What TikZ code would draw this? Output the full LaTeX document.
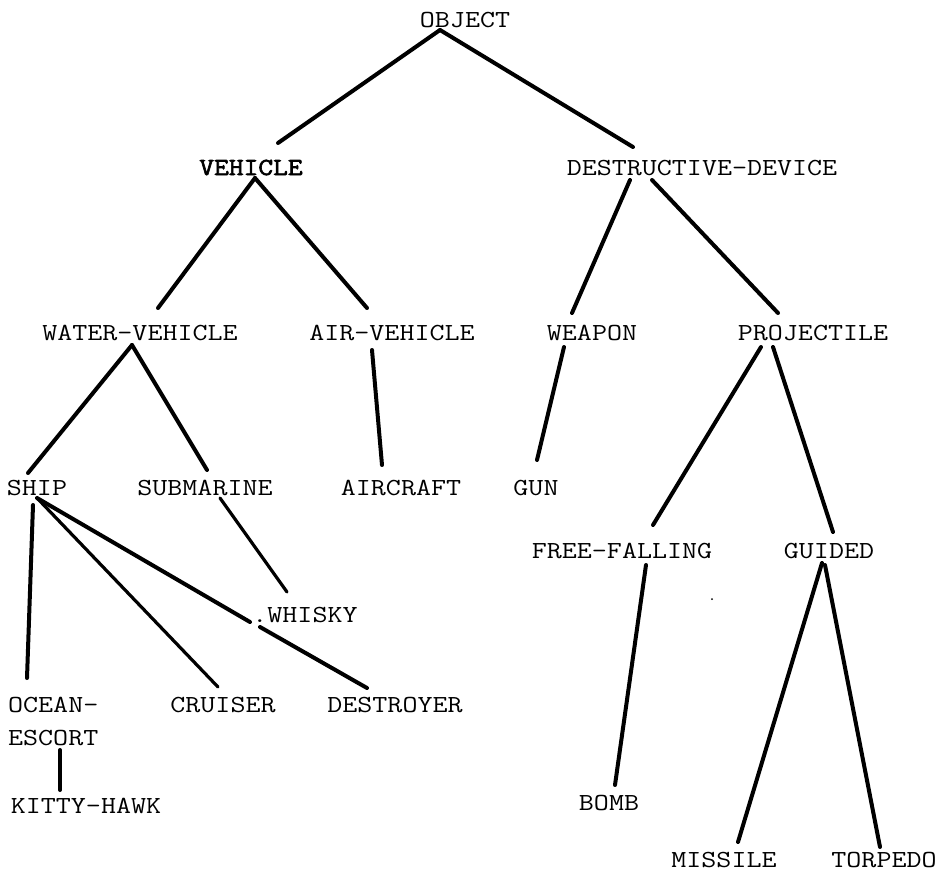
\documentclass[tikz,border=0pt]{standalone}
\usepackage{fontspec}
\newfontfamily\typewriter[FakeStretch=1.19]{Latin Modern Mono}
\newfontfamily\typewriterbold[FakeStretch=1.17,FakeBold=2.5]{Latin Modern Mono}
\usetikzlibrary{calc}
\begin{document}
\begin{tikzpicture}[x=1pt,y=-1pt,
  lbl/.style={anchor=base,inner sep=0pt,font=\typewriter\fontsize{24.5}{33}\selectfont},
  boldlbl/.style={lbl,font=\typewriterbold\fontsize{24.5}{33}\selectfont},
  link/.style={line width=4pt,line cap=round},
  thinlink/.style={line width=3.2pt,line cap=round}]
\useasboundingbox (0,0) rectangle (951,873);

% concepts
\node[lbl] (obj) at (465,27) {OBJECT};
\node[boldlbl] (veh) at (251,175) {VEHICLE};
\node[lbl] (dd) at (702,175) {DESTRUCTIVE-DEVICE};
\node[lbl] (wv) at (140,340) {WATER-VEHICLE};
\node[lbl] (av) at (392,340) {AIR-VEHICLE};
\node[lbl] (wp) at (592,340) {WEAPON};
\node[lbl] (pr) at (813,340) {PROJECTILE};
\node[lbl] (ship) at (37,495) {SHIP};
\node[lbl] (sub) at (205,495) {SUBMARINE};
\node[lbl] (ac) at (401,495) {AIRCRAFT};
\node[lbl] (gun) at (536,495) {GUN};
\node[lbl] (ff) at (622,558) {FREE-FALLING};
\node[lbl] (gd) at (829,558) {GUIDED};
\node[lbl] (wh) at (305,622) {.WHISKY};
% two-line label: its base anchor sits on the second line
\node[lbl,anchor=base west,align=left] (oe) at (8,745) {OCEAN-\\ESCORT};
\node[lbl] (cr) at (223,712) {CRUISER};
\node[lbl] (ds) at (395,712) {DESTROYER};
\node[lbl] (kh) at (86,813) {KITTY-HAWK};
\node[lbl] (bomb) at (609,810) {BOMB};
\node[lbl] (ms) at (724,867) {MISSILE};
\node[lbl] (tp) at (884,867) {TORPEDO};

% gap in the SHIP--DESTROYER link around the dot of .WHISKY
\coordinate (gapa) at ($(wh.base)+(-55,0)$);
\coordinate (gapb) at ($(wh.base)+(-45,5)$);

% links
\draw[link] ($(obj.base)+(-25,3)$) -- ($(veh.base)+(27,-32)$);
\draw[link] ($(obj.base)+(-25,3)$) -- ($(dd.base)+(-69,-28)$);
\draw[link] ($(veh.base)+(4,3)$) -- ($(wv.base)+(18,-32)$);
\draw[link] ($(veh.base)+(4,3)$) -- ($(av.base)+(-25,-32)$);
\draw[link] ($(dd.base)+(-72,5)$) -- ($(wp.base)+(-20,-27)$);
\draw[link] ($(dd.base)+(-50,5)$) -- ($(pr.base)+(-35,-27)$);
\draw[link] ($(wv.base)+(-8,5)$) -- ($(ship.base)+(-9,-22)$);
\draw[link] ($(wv.base)+(-8,5)$) -- ($(sub.base)+(2,-25)$);
\draw[link] ($(av.base)+(-20,10)$) -- ($(ac.base)+(-19,-30)$);
\draw[link] ($(wp.base)+(-28,7)$) -- ($(gun.base)+(1,-35)$);
\draw[link] ($(pr.base)+(-52,7)$) -- ($(ff.base)+(31,-33)$);
\draw[link] ($(pr.base)+(-40,7)$) -- ($(gd.base)+(4,-26)$);
\draw[link] ($(ship.base)+(-4,10)$) -- ($(oe.base west)+(19,-67)$);
\draw[thinlink] ($(ship.base)+(0,3)$) -- ($(cr.base)+(-5,-25)$);
\draw[link] ($(ship.base)+(0,3)$) -- (gapa);
\draw[link] (gapb) -- ($(ds.base)+(-28,-24)$);
\draw[thinlink] ($(sub.base)+(15,3)$) -- ($(wh.base)+(-18,-30)$);
\draw[link] ($(oe.base west)+(52,5)$) -- ($(kh.base)+(-26,-23)$);
\draw[link] ($(ff.base)+(24,7)$) -- ($(bomb.base)+(6,-25)$);
\draw[link] ($(gd.base)+(-7,5)$) -- ($(ms.base)+(14,-25)$);
\draw[link] ($(gd.base)+(-4,7)$) -- ($(tp.base)+(-4,-20)$);

% small speck
\fill (712,599) circle (1pt);
\end{tikzpicture}
\end{document}
